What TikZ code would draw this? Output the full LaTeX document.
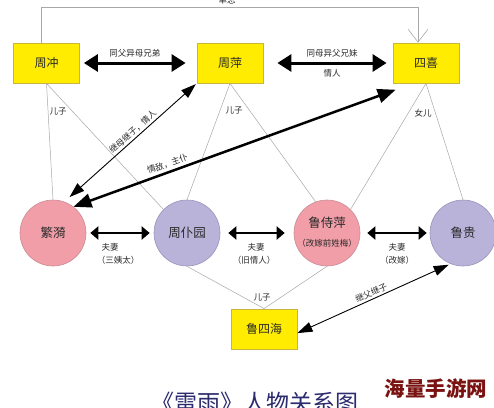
\documentclass[tikz,border=0pt]{standalone}
\usepackage{fontspec}
\newfontfamily\cjk{Noto Sans CJK SC}
\usetikzlibrary{arrows.meta,calc}
\definecolor{boxyellow}{HTML}{FFEC00}
\definecolor{boxedge}{HTML}{C9B53A}
\definecolor{pinkfill}{HTML}{F19EA8}
\definecolor{pinkedge}{HTML}{C98D95}
\definecolor{lavfill}{HTML}{B9B3DA}
\definecolor{lavedge}{HTML}{9A94BC}
\definecolor{txt}{HTML}{2A2A2A}
\definecolor{thin}{HTML}{A8A8A8}
\definecolor{navy}{HTML}{2B2B6E}
\definecolor{wmred}{HTML}{7A1212}
\tikzset{
  ybox/.style={draw=boxedge,fill=boxyellow,line width=0.8pt,minimum width=66pt,minimum height=40pt,inner sep=0pt,font=\cjk\fontsize{12}{14}\selectfont,text=txt},
  pcirc/.style={circle,draw=pinkedge,fill=pinkfill,line width=0.6pt,minimum size=66pt,inner sep=0pt,font=\cjk\fontsize{12.5}{15}\selectfont,text=txt},
  lcirc/.style={circle,draw=lavedge,fill=lavfill,line width=0.6pt,minimum size=66pt,inner sep=0pt,font=\cjk\fontsize{12.5}{15}\selectfont,text=txt},
  lbl/.style={font=\cjk\fontsize{8.5}{10}\selectfont,text=txt,inner sep=1pt},
  rel/.style={draw=thin,line width=0.5pt},
  bigarrow/.style={line width=3pt,{Triangle[length=14pt,width=17pt]}-{Triangle[length=14pt,width=17pt]}},
  midarrow/.style={line width=2.2pt,{Triangle[length=8pt,width=13pt]}-{Triangle[length=8pt,width=13pt]}},
  diagthick/.style={line width=2.5pt,{Triangle[length=18pt,width=14pt]}-{Triangle[length=18pt,width=14pt]}},
  diagthin/.style={line width=0.9pt,{Triangle[length=15pt,width=10pt]}-{Triangle[length=15pt,width=10pt]}},
}
\begin{document}
\begin{tikzpicture}[x=1pt,y=-1pt]
\useasboundingbox (0,0) rectangle (494,407);
\fill[white] (0,0) rectangle (494,407);
% top boxes
\node[ybox] (zc) at (46.5,63) {周冲};
\node[ybox] (zp) at (230,63) {周萍};
\node[ybox] (sx) at (426,63) {四喜};
% circles
\node[pcirc] (fy) at (53,233) {繁漪};
\node[lcirc] (zpy) at (187,233) {周仆园};
\node[pcirc] (lsp) at (327,233) {};
\node[font=\cjk\fontsize{12.5}{15}\selectfont,text=txt] (lspa) at (327,223) {鲁侍萍};
\node[lbl] (lspb) at (327,243) {（改嫁前姓梅）};
\node[lcirc] (lg) at (463,233) {鲁贵};
\node[ybox] (lsh) at (264,329) {鲁四海};
% kinship thin lines
\draw[rel] (zc.south) -- (fy.north);
\draw[rel] (zc.south) -- (zpy.135);
\draw[rel] (zp.south) -- (zpy.north);
\draw[rel] (zp.south) -- (lsp.110);
\draw[rel] (sx.south) -- (lsp.45);
\draw[rel] (sx.south) -- (lg.north);
\draw[rel] (zpy.south) -- (lsh.north);
\draw[rel] (lsp.south) -- (lsh.north);
\node[lbl] (l1) at (58,111) {儿子};
\node[lbl] (l2) at (234,110) {儿子};
\node[lbl] (l3) at (423,113) {女儿};
\node[lbl] (l4) at (262,297) {儿子};
% top line
\coordinate (tl) at (41,7);
\coordinate (tr) at (418,7);
\draw[draw=thin,line width=0.8pt,-{Straight Barb[length=13pt,width=20pt,line width=0.6pt]}] ([xshift=-5.5pt]zc.north) -- (tl) -- (tr) -- ([xshift=-8pt]sx.north);
\node[lbl] (t0) at (227,0) {单恋};
% horizontal arrows
\draw[bigarrow] ([xshift=4pt]zc.east) -- ([xshift=-11pt]zp.west)
  node[midway,lbl,yshift=10pt] {同父异母兄弟};
\draw[bigarrow] ([xshift=14pt]zp.east) -- ([xshift=-6pt]sx.west)
  node[midway,lbl,yshift=10pt] {同母异父兄妹}
  node[midway,lbl,yshift=-10pt] {情人};
\draw[midarrow] ([xshift=4pt]fy.east) -- ([xshift=-4pt]zpy.west);
\node[lbl] at (110,247) {夫妻};
\node[lbl] at (118,260) {（三姨太）};
\draw[midarrow] ([xshift=8pt]zpy.east) -- ([xshift=-9pt]lsp.west);
\node[lbl] at (256,247) {夫妻};
\node[lbl] at (254,260) {（旧情人）};
\draw[midarrow] ([xshift=7pt]lsp.east) -- ([xshift=-3pt]lg.west);
\node[lbl] at (397,247) {夫妻};
\node[lbl] at (397,260) {（改嫁）};
% diagonal arrows
\draw[diagthin,shorten <=1pt,shorten >=7pt] (zp.south west) -- (fy.70)
  node[pos=0.45,sloped,above,lbl,yshift=1pt] {继母继子，情人};
\draw[diagthick,shorten <=1pt] ([yshift=-6pt,xshift=4pt]sx.south west) -- (fy.52)
  node[pos=0.7,sloped,above,lbl,yshift=2pt] {情敌，主仆};
\draw[diagthin,shorten <=2pt] (lg.248) -- (lsh.-7)
  node[pos=0.5,sloped,above,lbl,yshift=1pt] {继父继子};
% title and watermark
\node[font=\cjk\fontsize{23}{26}\selectfont,text=navy,inner sep=0pt] (title) at (255,403) {《雷雨》人物关系图};
\node[font=\cjk\bfseries\fontsize{20.5}{24}\selectfont,text=wmred,inner sep=0pt] (wm) at (436,389) {海量手游网};
\end{tikzpicture}
\end{document}
